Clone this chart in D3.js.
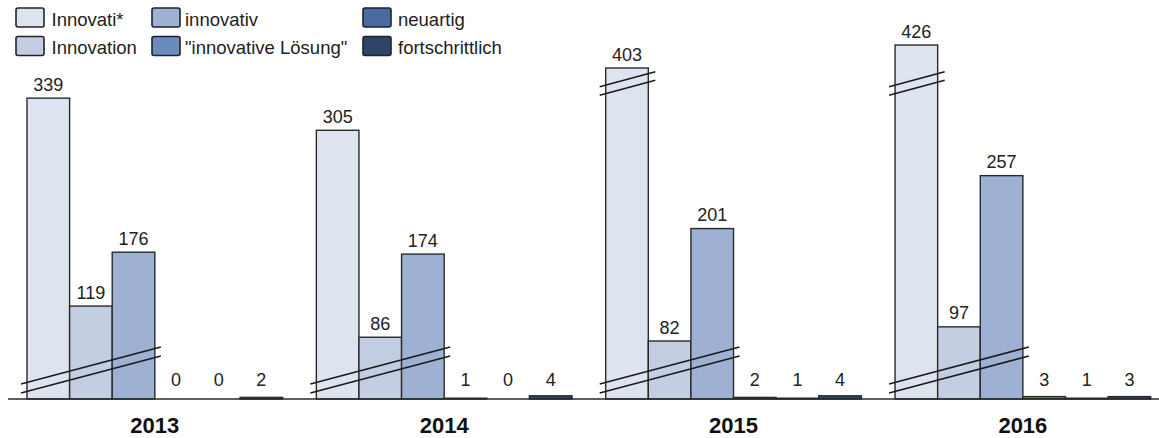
<!DOCTYPE html>
<html><head><meta charset="utf-8">
<script src="https://cdn.jsdelivr.net/npm/d3@7"></script>
<style>body{margin:0;background:#fff}svg{display:block;font-family:"Liberation Sans",Arial,sans-serif}</style>
</head><body><svg id="c" width="1159" height="438"></svg>
<script>
const years = ["2013","2014","2015","2016"];
const series = ["Innovati*","Innovation","innovativ","\"innovative Lösung\"","neuartig","fortschrittlich"];
const colors = ["#dde4f0","#c3cee2","#9eb1d2","#6a8bbd","#4b6a9f","#2f4567"];
const vInnovatiStar = [339,305,403,426];
const vInnovation = [119,86,82,97];
const vInnovativ = [176,174,201,257];
const vLoesung = [0,1,2,3];
const vNeuartig = [0,0,1,1];
const vFortschrittlich = [2,4,4,3];
const values = [vInnovatiStar,vInnovation,vInnovativ,vLoesung,vNeuartig,vFortschrittlich];
// broken value axis: segment breakpoints (value domain) and bar heights
const brkDomain = [0,5,25,360,395,430];
const brkHeights = [0,4,4.1,320.7,323,358];
const topBreakYears = ["2015","2016"];

const svg = d3.select("#c");
const baseY = 399;
const y = d3.scaleLinear().domain(brkDomain).range(brkHeights.map(h=>baseY-h));
const x0 = d3.scaleBand().domain(years).range([27,1150.7]).paddingInner(0.1165).paddingOuter(0);
const x1 = d3.scaleBand().domain(series.map((s,i)=>i)).range([0,x0.bandwidth()]);

const data = [];
years.forEach((yr,yi)=>series.forEach((s,si)=>data.push({yr,si,v:values[si][yi]})));

const g = svg.append("g");
g.selectAll("rect.bar").data(data.filter(d=>d.v>0)).join("rect")
  .attr("x",d=>x0(d.yr)+x1(d.si)).attr("width",x1.bandwidth())
  .attr("y",d=>y(d.v)).attr("height",d=>baseY-y(d.v))
  .attr("fill",d=>colors[d.si]).attr("stroke","#2a2a2a").attr("stroke-width",1.4);

// axis baseline
svg.append("line").attr("x1",8).attr("x2",1159).attr("y1",baseY).attr("y2",baseY)
  .attr("stroke","#2a2a2a").attr("stroke-width",1.5);

// value labels
g.selectAll("text.val").data(data).join("text")
  .attr("x",d=>x0(d.yr)+x1(d.si)+x1.bandwidth()/2)
  .attr("y",d=>Math.min(y(d.v)-7.5,385.5))
  .attr("text-anchor","middle").attr("font-size",18).attr("fill","#222")
  .text(d=>d.v);

// break marks
const brk = svg.append("g").attr("stroke","#1a1a1a").attr("stroke-width",1.6).attr("fill","none");
years.forEach(yr=>{
  const gx = x0(yr);
  const xa = gx-6, xb = gx + x1.bandwidth()*3 + 6;
  [0,9].forEach(o=>brk.append("line").attr("x1",xa).attr("y1",baseY-15+o).attr("x2",xb).attr("y2",baseY-52+o));
  if(topBreakYears.includes(yr)){
    const xc = gx + x1.bandwidth() + 7;
    [0,8.5].forEach(o=>brk.append("line").attr("x1",xa).attr("y1",86.7+o).attr("x2",xc).attr("y2",71.7+o));
  }
});

// year labels
svg.selectAll("text.yr").data(years).join("text")
  .attr("x",d=>x0(d)+x0.bandwidth()/2).attr("y",433)
  .attr("text-anchor","middle").attr("font-size",22).attr("font-weight","bold").attr("fill","#111")
  .text(d=>d);

// legend
const legX = [16,152,363];
const legTextDx = [35.5,33,35];
const legY = [8,36.5];
const lg = svg.append("g");
series.forEach((s,i)=>{
  const col = Math.floor(i/2), row = i%2;
  const it = lg.append("g").attr("transform",`translate(${legX[col]},${legY[row]})`);
  it.append("rect").attr("x",0).attr("y",0).attr("width",28).attr("height",19).attr("rx",2)
    .attr("fill",colors[i]).attr("stroke","#222").attr("stroke-width",1.6);
  it.append("text").attr("x",legTextDx[col]).attr("y",17.5).attr("font-size",18.5).attr("fill","#222").text(s);
});
</script></body></html>
